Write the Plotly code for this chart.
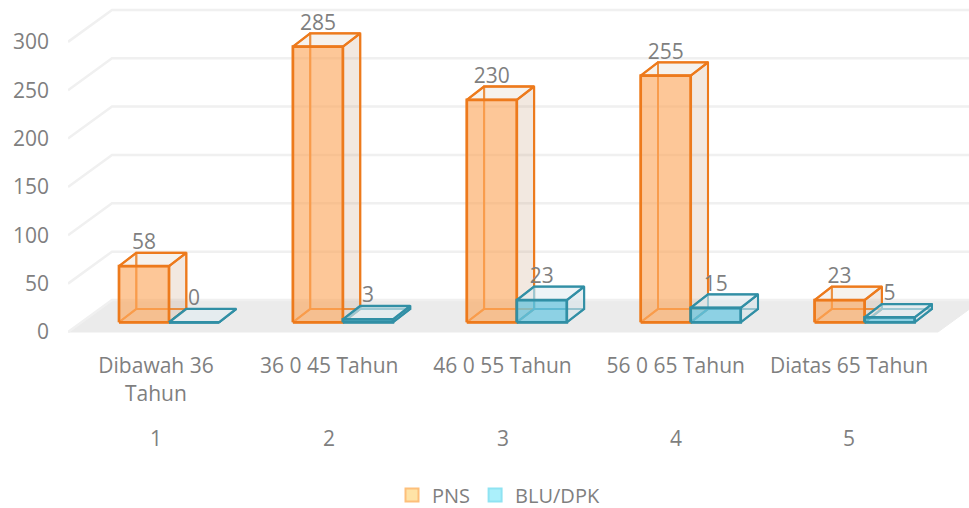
import plotly.graph_objects as go

# data
categories = ["Dibawah 36", "36 0 45 Tahun", "46 0 55 Tahun", "56 0 65 Tahun", "Diatas 65 Tahun"]
level_labels = ["1", "2", "3", "4", "5"]
positions = [1, 2, 3, 4, 5]
pns_values = [58, 285, 230, 255, 23]
blu_values = [0, 3, 23, 15, 5]
y_ticks = [0, 50, 100, 150, 200, 250, 300]

FONT = "Open Sans"
GREY = "#7f7f7f"

W, H = 969, 508
PLOT_L, PLOT_H = 68, 340
PX_X = 173.9          # pixels per category
PX_Y = 0.967          # pixels per value unit
ZERO_PX = 332         # pixel row of value 0 on the front plane

x_range = [1 + (PLOT_L - 156) / PX_X, 1 + (W - 156) / PX_X]
y_range = [(ZERO_PX - PLOT_H) / PX_Y, ZERO_PX / PX_Y]

# oblique offsets, in axis units
WALL_DX, WALL_DY = 44 / PX_X, 32 / PX_Y
BOX_DX, BOX_DY = 17.3 / PX_X, 13.4 / PX_Y
BASE_Y = 9.7 / PX_Y
BAR_W = 50 / PX_X
PNS_LEFT = -37 / PX_X
LABEL_GAP = -1.5 / PX_Y

# the axis labels run a little tighter than the bars
label_positions = [p - (p - 1) * 0.65 / PX_X for p in positions]

fig = go.Figure()


def add_poly(xs, ys, fill, line, width):
    fig.add_trace(go.Scatter(
        x=xs, y=ys, mode="lines", fill="toself", fillcolor=fill,
        line=dict(color=line, width=width),
        showlegend=False, hoverinfo="skip",
    ))


def join(polys):
    xs, ys = [], []
    for px, py in polys:
        xs += px + [px[0], None]
        ys += py + [py[0], None]
    return xs, ys


def add_boxes(values, left, stroke, inner, front_fill, side_fill, top_fill):
    back, side, top, front = [], [], [], []
    for pos, val in zip(positions, values):
        x0 = pos + left
        x1 = x0 + BAR_W
        y0 = BASE_Y
        y1 = BASE_Y + val
        xb0, xb1 = x0 + BOX_DX, x1 + BOX_DX
        yb0, yb1 = y0 + BOX_DY, y1 + BOX_DY
        back.append(([xb0, xb1, xb1, xb0], [yb0, yb0, yb1, yb1]))
        back.append(([x0, xb0, xb0, x0], [y0, yb0, yb1, y1]))
        back.append(([x0, x1, xb1, xb0], [y0, y0, yb0, yb0]))
        side.append(([x1, xb1, xb1, x1], [y0, yb0, yb1, y1]))
        top.append(([x0, x1, xb1, xb0], [y1, y1, yb1, yb1]))
        front.append(([x0, x1, x1, x0], [y0, y0, y1, y1]))
    add_poly(*join(back), "rgba(0,0,0,0)", inner, 2)
    add_poly(*join(side), side_fill, stroke, 2.1)
    add_poly(*join(top), top_fill, stroke, 2.3)
    add_poly(*join(front), front_fill, stroke, 2.7)


# floor
floor_right = x_range[0] + 870 / PX_X
add_poly(
    [x_range[0], floor_right, floor_right + WALL_DX, x_range[0] + WALL_DX],
    [0, 0, WALL_DY, WALL_DY],
    "#ebebeb", "#ebebeb", 1,
)

# gridlines: slanted part on the left wall, then straight along the back wall
for tick in y_ticks:
    fig.add_trace(go.Scatter(
        x=[x_range[0], x_range[0] + WALL_DX, x_range[1]],
        y=[tick, tick + WALL_DY, tick + WALL_DY],
        mode="lines", line=dict(color="#f0f0f0", width=2.5),
        showlegend=False, hoverinfo="skip",
    ))

add_boxes(pns_values, PNS_LEFT, "#ed7a1c", "rgba(243,140,50,0.85)",
          "rgba(252,165,88,0.62)", "rgba(190,140,100,0.2)", "rgba(190,160,130,0.14)")
add_boxes(blu_values, PNS_LEFT + BAR_W, "#318fa5", "rgba(49,143,165,0.85)",
          "rgba(110,200,225,0.75)", "rgba(215,228,234,0.6)", "rgba(225,236,242,0.6)")

# data labels sit just above the back top edge of each box
for values, left in ((pns_values, PNS_LEFT), (blu_values, PNS_LEFT + BAR_W)):
    fig.add_trace(go.Scatter(
        x=[p + left + BAR_W / 2 for p in positions],
        y=[v + BASE_Y + BOX_DY + LABEL_GAP for v in values],
        mode="text", text=[str(v) for v in values], textposition="top center",
        textfont=dict(family=FONT, size=21, color=GREY),
        showlegend=False, hoverinfo="skip", cliponaxis=False,
    ))

# legend entries
for name, fill, edge in (("PNS", "#ffe3a6", "#fdbf7a"), ("BLU/DPK", "#abf0fb", "#8fe3f2")):
    fig.add_trace(go.Scatter(
        x=[None], y=[None], mode="markers", name=name,
        marker=dict(symbol="square", size=13, color=fill, line=dict(color=edge, width=2)),
    ))

# wrapped second line of the first category, and the outer level of the axis
fig.add_annotation(text="Tahun", x=label_positions[0], xref="x", y=-53 / PLOT_H, yref="paper",
                   yanchor="middle", showarrow=False,
                   font=dict(family=FONT, size=21, color=GREY))
for pos, lab in zip(label_positions, level_labels):
    fig.add_annotation(text=lab, x=pos, xref="x", y=-98 / PLOT_H, yref="paper",
                       yanchor="middle", showarrow=False,
                       font=dict(family=FONT, size=21, color=GREY))

fig.update_layout(
    width=W, height=H,
    margin=dict(l=PLOT_L, r=0, t=0, b=H - PLOT_H, pad=0),
    paper_bgcolor="white", plot_bgcolor="white",
    font=dict(family=FONT, size=21, color=GREY),
    xaxis=dict(
        range=x_range, tickmode="array", tickvals=label_positions, ticktext=categories,
        showgrid=False, zeroline=False, showline=False, ticks="",
        tickfont=dict(family=FONT, size=21, color=GREY), ticklabelstandoff=11,
    ),
    yaxis=dict(
        range=y_range, tickmode="array", tickvals=y_ticks,
        showgrid=False, zeroline=False, showline=False, ticks="",
        tickfont=dict(family=FONT, size=21, color=GREY), ticklabelstandoff=18,
    ),
    legend=dict(
        orientation="h", x=0.5 + 14 / W, xanchor="center", xref="container",
        y=(H - 495) / H, yanchor="middle", yref="container",
        font=dict(family=FONT, size=20, color=GREY), itemwidth=30,
    ),
)

fig.write_html("out.html", config=dict(displayModeBar=False),
               post_script="document.body.style.margin='0';")
